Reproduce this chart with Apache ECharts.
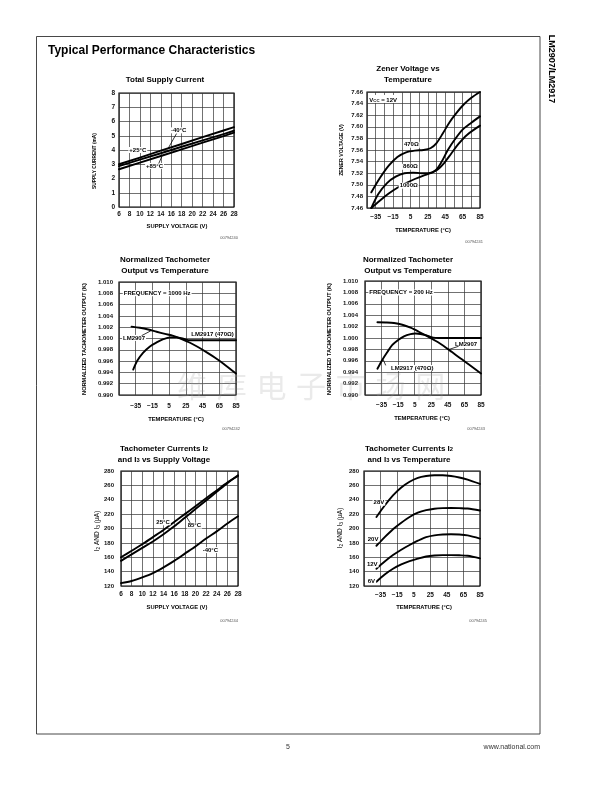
<!DOCTYPE html>
<html><head><meta charset="utf-8">
<script src="https://cdn.jsdelivr.net/npm/echarts@6/dist/echarts.min.js"></script>
<style>html,body{margin:0;padding:0;background:#fff}#c{width:612px;height:792px}</style>
</head><body><div id="c"></div>
<script>
// ---------- DATA ----------
// Chart 1: Total Supply Current vs Supply Voltage
const c1Volt = [6, 10, 14, 18, 22, 26, 28];
const c1Minus40 = [3.00, 3.47, 3.95, 4.42, 4.90, 5.37, 5.60];
const c1Plus25 = [2.87, 3.32, 3.77, 4.23, 4.68, 5.12, 5.35];
const c1Plus85 = [2.65, 3.12, 3.58, 4.05, 4.52, 4.98, 5.22];
const c1XTicks = [6, 8, 10, 12, 14, 16, 18, 20, 22, 24, 26, 28];
const c1YTicks = [0, 1, 2, 3, 4, 5, 6, 7, 8];

// Chart 2: Zener Voltage vs Temperature
const c2T470 = [-40, -30, -20, -10, 0, 10, 20, 28, 35, 42, 50, 58, 66, 75, 85];
const c2V470 = [7.487, 7.512, 7.533, 7.548, 7.556, 7.559, 7.560, 7.563, 7.572, 7.588, 7.608, 7.624, 7.638, 7.650, 7.660];
const c2T860 = [-40, -32, -22, -12, -2, 8, 18, 26, 34, 41, 48, 56, 65, 75, 85];
const c2V860 = [7.460, 7.484, 7.503, 7.514, 7.520, 7.521, 7.520, 7.520, 7.525, 7.540, 7.560, 7.578, 7.595, 7.607, 7.618];
const c2T1000 = [-40, -30, -20, -10, 0, 10, 20, 28, 36, 44, 52, 60, 70, 85];
const c2V1000 = [7.460, 7.473, 7.485, 7.495, 7.503, 7.510, 7.516, 7.520, 7.526, 7.538, 7.554, 7.570, 7.586, 7.602];

// Chart 3: Normalized Tachometer Output vs Temperature (1000 Hz)
const c3T2907 = [-40, -30, -20, -10, 0, 10, 20, 30, 40, 50, 60, 70, 85];
const c3K2907 = [1.0021, 1.0019, 1.0016, 1.0012, 1.00082, 1.00045, 0.9999, 0.99925, 0.99845, 0.99755, 0.9966, 0.99555, 0.9938];
const c3T2917 = [-38, -33, -26, -18, -10, -2, 6, 14, 22, 30, 45, 65, 85];
const c3K2917 = [0.9945, 0.9961, 0.9975, 0.9986, 0.9993, 0.99988, 1.0002, 1.0002, 0.99995, 0.9997, 0.9997, 0.9997, 0.9997];

// Chart 4: Normalized Tachometer Output vs Temperature (200 Hz)
const c4T2907 = [-40, -30, -20, -10, 0, 10, 20, 30, 40, 50, 60, 70, 85];
const c4K2907 = [1.00276, 1.00272, 1.00262, 1.00233, 1.0018, 1.0011, 1.00033, 0.99951, 0.99861, 0.99753, 0.99645, 0.9954, 0.99377];
const c4T2917 = [-40, -34, -28, -22, -15, -8, 0, 6, 12, 18, 24, 30, 40, 60, 85];
const c4K2917 = [0.9946, 0.9962, 0.99755, 0.99878, 0.99965, 1.0003, 1.00068, 1.00078, 1.0007, 1.0005, 1.0002, 1.00003, 1.0, 1.0, 1.0];

// Chart 5: Tachometer currents vs Supply Voltage
const c5Volt = [6, 8, 10, 12, 14, 16, 18, 20, 22, 24, 26, 28];
const c5I25 = [160, 169, 178, 188, 198, 209, 220, 231, 242, 253, 264, 273];
const c5I85 = [155, 164, 173, 182, 192, 203, 215, 227, 239, 251, 263, 274];
const c5Im40 = [124, 127, 132, 138, 146, 155, 165, 175, 186, 196, 207, 217];

// Chart 6: Tachometer currents vs Temperature
const c6Temp = [-40, -30, -20, -10, 0, 10, 20, 30, 40, 50, 60, 70, 85];
const c6I28 = [216, 232, 246, 257, 265, 270.5, 273, 274, 274, 273, 271, 268, 262];
const c6I20 = [176, 188, 199, 208, 216, 222, 225.5, 227.5, 228.3, 228.5, 228.3, 227.8, 225];
const c6I12 = [144, 154, 163, 170.5, 177, 183, 188, 190.5, 191.7, 192, 191.7, 190.5, 186];
const c6I6 = [126, 136, 144, 150, 154.5, 158, 161, 162.5, 163, 163, 162.7, 162, 158.5];

// ---------- HELPERS ----------
const FONT = '"Liberation Sans", Arial, Helvetica, sans-serif';
const zip = (xs, ys) => xs.map((x, i) => [x, ys[i]]);
const MINUS = '\u2212';
const fmtTemp = v => { v = Math.round(v); return (v >= -35 && (v + 35) % 20 === 0) ? (v < 0 ? MINUS + (-v) : String(v)) : ''; };

const grids = [
  {left: 119, top: 93, width: 115, height: 114},
  {left: 367, top: 92, width: 113, height: 116},
  {left: 119, top: 282, width: 117, height: 113},
  {left: 365, top: 281, width: 116, height: 114},
  {left: 121, top: 471, width: 117, height: 115},
  {left: 364, top: 471, width: 116, height: 115}
].map(g => Object.assign({show: true, borderColor: '#000', borderWidth: 1.2, backgroundColor: 'transparent', containLabel: false, outerBoundsMode: 'none'}, g));

function axis(gi, min, max, interval, fmt, margin, size) {
  return {
    type: 'value', gridIndex: gi, min, max, interval,
    axisLine: {show: false}, axisTick: {show: false},
    splitLine: {show: true, lineStyle: {color: '#333', width: 0.7}},
    axisLabel: {fontSize: size || 6.5, fontWeight: 'bold', fontFamily: FONT, color: '#111', margin, formatter: fmt,
      showMinLabel: true, showMaxLabel: true, hideOverlap: false}
  };
}

const xAxes = [
  axis(0, c1XTicks[0], c1XTicks[c1XTicks.length - 1], 2, v => String(v), 4),
  axis(1, -45, 85, 10, fmtTemp, 5.5),
  axis(2, -55, 85, 20, fmtTemp, 7.5),
  axis(3, -55, 85, 20, fmtTemp, 7),
  axis(4, c1XTicks[0], c1XTicks[c1XTicks.length - 1], 2, v => String(v), 4.5),
  axis(5, -55, 85, 20, fmtTemp, 5.5)
];
const yAxes = [
  axis(0, c1YTicks[0], c1YTicks[c1YTicks.length - 1], 1, v => String(v), 4),
  axis(1, 7.46, 7.66, 0.02, v => v.toFixed(2), 4, 6),
  axis(2, 0.99, 1.01, 0.002, v => v.toFixed(3), 6, 6),
  axis(3, 0.99, 1.01, 0.002, v => v.toFixed(3), 7, 6),
  axis(4, 120, 280, 20, v => String(v), 7, 6),
  axis(5, 120, 280, 20, v => String(v), 5, 6)
];

function line(gi, xs, ys, smooth) {
  return {type: 'line', xAxisIndex: gi, yAxisIndex: gi, data: zip(xs, ys), symbol: 'none', showSymbol: false,
    smooth: smooth ? 0.3 : false, lineStyle: {color: '#000', width: 1.9, cap: 'round', join: 'round'}, silent: true, z: 5, animation: false};
}

const series = [
  line(0, c1Volt, c1Minus40), line(0, c1Volt, c1Plus25), line(0, c1Volt, c1Plus85),
  line(1, c2T470, c2V470, true), line(1, c2T860, c2V860, true), line(1, c2T1000, c2V1000, true),
  line(2, c3T2907, c3K2907, true), line(2, c3T2917, c3K2917, true),
  line(3, c4T2907, c4K2907, true), line(3, c4T2917, c4K2917, true),
  line(4, c5Volt, c5I25, true), line(4, c5Volt, c5I85, true), line(4, c5Volt, c5Im40, true),
  line(5, c6Temp, c6I28, true), line(5, c6Temp, c6I20, true), line(5, c6Temp, c6I12, true), line(5, c6Temp, c6I6, true)
];

const chart = echarts.init(document.getElementById('c'), null, {renderer: 'canvas', width: 612, height: 792});
chart.setOption({animation: false, backgroundColor: '#fff', grid: grids, xAxis: xAxes, yAxis: yAxes, series});

// ---------- TEXT / DECORATION ----------
function txt(x, y, text, size, o) {
  o = o || {};
  const al = o.align || 'center';
  const st = {text, font: (o.weight || 'bold') + ' ' + size + 'px ' + FONT, fill: o.color || '#000',
    align: al, verticalAlign: 'middle', textAlign: al, textVerticalAlign: 'middle'};
  if (o.bg) { st.backgroundColor = '#fff'; st.padding = [0, 1]; }
  if (o.rich) st.rich = o.rich;
  return {type: 'text', x, y, rotation: o.rot || 0, z: o.z || 50, silent: true, style: st};
}
function sub(size) {
  return {
    n: {fontSize: size, fontWeight: 'bold', fontFamily: FONT, lineHeight: size + 2, verticalAlign: 'bottom'},
    s: {fontSize: size * 0.72, fontWeight: 'bold', fontFamily: FONT, lineHeight: size * 0.72, verticalAlign: 'bottom'}
  };
}
const P = (gi, x, y) => chart.convertToPixel({gridIndex: gi}, [x, y]);

const g = [];
// watermark
const wm = ['维', '库', '电', '子', '市', '场', '网'];
wm.forEach((ch, i) => g.push({type: 'text', x: 192 + i * 39.7, y: 386, z: 1, silent: true,
  style: {text: ch, font: '30px "Noto Sans CJK SC", sans-serif', fill: 'rgba(160,160,160,0.22)', align: 'center', verticalAlign: 'middle', textAlign: 'center', textVerticalAlign: 'middle'}}));
// page frame
g.push({type: 'rect', shape: {x: 36.5, y: 36.5, width: 503.5, height: 697.5}, style: {fill: 'none', stroke: '#333', lineWidth: 0.9}, z: 40, silent: true});
g.push(txt(48, 51, 'Typical Performance Characteristics', 12, {align: 'left'}));
g.push(txt(551, 69, 'LM2907/LM2917', 9, {rot: -Math.PI / 2}));
g.push(txt(288, 747, '5', 7, {weight: 'normal', color: '#333'}));
g.push(txt(540, 747, 'www.national.com', 7, {weight: 'normal', color: '#333', align: 'right'}));

// titles
g.push(txt(165, 80, 'Total Supply Current', 8));
g.push(txt(408, 68.5, 'Zener Voltage vs', 8));
g.push(txt(408, 80, 'Temperature', 8));
g.push(txt(165, 260, 'Normalized Tachometer', 8));
g.push(txt(165, 270.5, 'Output vs Temperature', 8));
g.push(txt(408, 260, 'Normalized Tachometer', 8));
g.push(txt(408, 270.5, 'Output vs Temperature', 8));
g.push(txt(164, 447.5, '{n|Tachometer Currents I}{s|2}', 8, {rich: sub(8)}));
g.push(txt(164, 458.5, '{n|and I}{s|3}{n| vs Supply Voltage}', 8, {rich: sub(8)}));
g.push(txt(409, 447.5, '{n|Tachometer Currents I}{s|2}', 8, {rich: sub(8)}));
g.push(txt(409, 458.5, '{n|and I}{s|3}{n| vs Temperature}', 8, {rich: sub(8)}));

// axis names
g.push(txt(177, 226.7, 'SUPPLY VOLTAGE (V)', 5.8));
g.push(txt(94.5, 161, 'SUPPLY CURRENT (mA)', 4.8, {rot: Math.PI / 2}));
g.push(txt(423, 230, 'TEMPERATURE (°C)', 5.8));
g.push(txt(342, 150, 'ZENER VOLTAGE (V)', 5.2, {rot: Math.PI / 2}));
g.push(txt(176, 419, 'TEMPERATURE (°C)', 5.8));
g.push(txt(84.5, 339, 'NORMALIZED TACHOMETER OUTPUT (K)', 5.6, {rot: Math.PI / 2}));
g.push(txt(422, 418.3, 'TEMPERATURE (°C)', 5.8));
g.push(txt(329.5, 339, 'NORMALIZED TACHOMETER OUTPUT (K)', 5.6, {rot: Math.PI / 2}));
g.push(txt(177, 607.3, 'SUPPLY VOLTAGE (V)', 5.8));
g.push(txt(97, 531, '{n|I}{s|2}{n| AND I}{s|3}{n| (\u00b5A)}', 6.5, {rot: Math.PI / 2, rich: {
  n: {fontSize: 6.5, fontFamily: FONT, lineHeight: 8, verticalAlign: 'bottom'},
  s: {fontSize: 4.8, fontFamily: FONT, lineHeight: 4.8, verticalAlign: 'bottom'}}}));
g.push(txt(424, 607.3, 'TEMPERATURE (°C)', 5.8));
g.push(txt(340, 528, '{n|I}{s|2}{n| AND I}{s|3}{n| (\u00b5A)}', 6.5, {rot: Math.PI / 2, rich: {
  n: {fontSize: 6.5, fontFamily: FONT, lineHeight: 8, verticalAlign: 'bottom'},
  s: {fontSize: 4.8, fontFamily: FONT, lineHeight: 4.8, verticalAlign: 'bottom'}}}));

// figure codes
[[238, 237.5, '00794240'], [483, 242, '00794241'], [240, 429, '00794242'], [485, 428.5, '00794243'], [238, 621, '00794244'], [487, 620.5, '00794245']]
  .forEach(c => g.push(txt(c[0], c[1], c[2], 4, {weight: 'normal', color: '#555', align: 'right'})));

// in-plot annotations (data-space anchors)
const ann = [
  [0, 17.4, 5.38, '-40°C'], [0, 9.6, 4.0, '+25°C'], [0, 12.8, 2.88, '+85°C'],
  [2, -50.5, 1.008, 'FREQUENCY = 1000 Hz', 'left'], [2, -37, 1.0001, 'LM2907'], [2, 57, 1.0008, 'LM2917 (470\u03a9)'],
  [3, -51, 1.008, 'FREQUENCY = 200 Hz', 'left'], [3, 67, 0.9988, 'LM2907'], [3, 2, 0.99475, 'LM2917 (470\u03a9)'],
  [1, 6, 7.569, '470\u03a9'], [1, 5, 7.531, '860\u03a9'], [1, 3, 7.4985, '1000\u03a9'],
  [4, 13.9, 208.6, '25°C'], [4, 19.8, 204, '85°C'], [4, 22.8, 170, '-40°C'],
  [5, -37, 236, '28V'], [5, -44, 185, '20V'], [5, -45, 150, '12V'], [5, -46, 127, '6V']
];
ann.forEach(a => { const p = P(a[0], a[1], a[2]); g.push(txt(p[0], p[1], a[3], 6, {bg: true, align: a[4] || 'center', z: 30})); });
// V_CC label
(function () { const p = P(1, -43.5, 7.648); g.push(txt(p[0], p[1], '{n|V}{s|CC}{n| = 12V}', 6, {align: 'left', bg: true, z: 30, rich: sub(6)})); })();

// leader lines
const leads = [
  [0, 17.0, 5.15, 15.3, 4.05], [0, 13.6, 3.05, 14.2, 3.55],
  [2, -28, 1.0005, -17, 1.00135],
  [3, 58, 0.99855, 46, 0.99797], [3, -30, 0.9952, -33, 0.9962],
  [4, 19.0, 208, 18.3, 216.5]
];
leads.forEach(l => { const a = P(l[0], l[1], l[2]), b = P(l[0], l[3], l[4]);
  g.push({type: 'line', shape: {x1: a[0], y1: a[1], x2: b[0], y2: b[1]}, style: {stroke: '#000', lineWidth: 0.8}, z: 31, silent: true}); });

chart.setOption({graphic: {elements: g}});
</script></body></html>
